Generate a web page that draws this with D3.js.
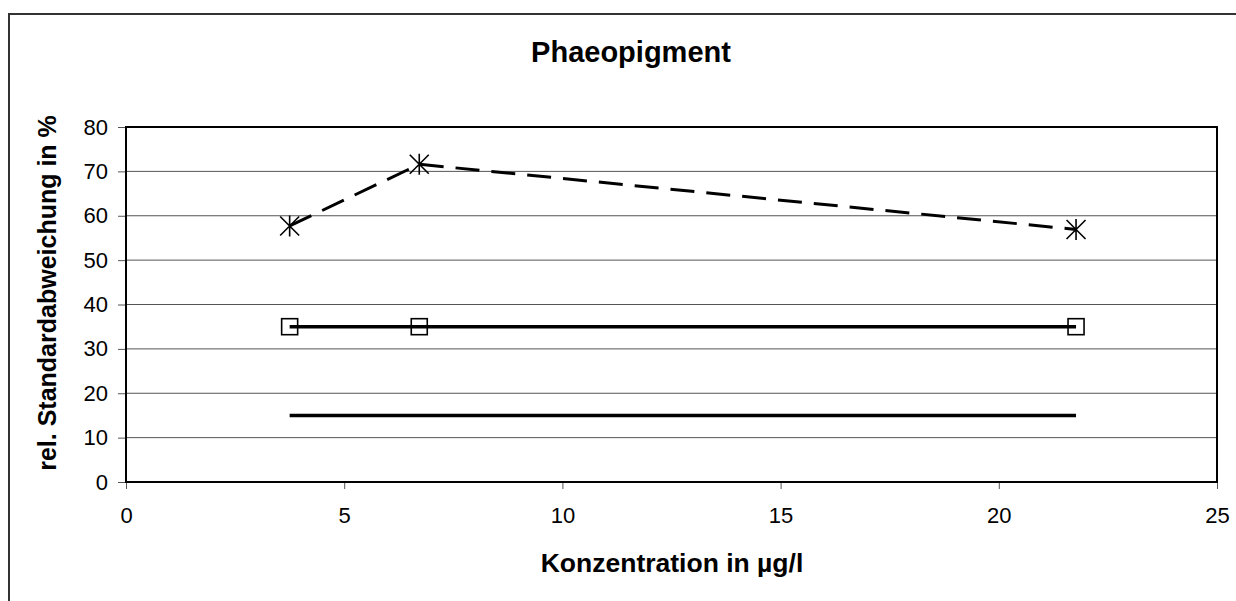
<!DOCTYPE html>
<html><head><meta charset="utf-8">
<script src="https://cdn.jsdelivr.net/npm/d3@7"></script>
<style>body{margin:0;background:#fff}svg{display:block;font-family:"Liberation Sans",Arial,sans-serif}</style>
</head><body>
<svg id="c" width="1236" height="601"></svg>
<script>
const title = "Phaeopigment";
const xTitle = "Konzentration in µg/l";
const yTitle = "rel. Standardabweichung in %";
const xTicks = [0, 5, 10, 15, 20, 25];
const yTicks = [0, 10, 20, 30, 40, 50, 60, 70, 80];
const concX = [3.75, 6.72, 21.77];
const rsdMeasured = [57.7, 71.6, 56.9];
const rsdSquare = [35, 35, 35];
const rsdLine = [15, 15, 15];

const svg = d3.select("#c");
const m = {l: 126, t: 127, r: 1217, b: 482};
const x = d3.scaleLinear().domain([0, 25]).range([m.l, m.r]);
const y = d3.scaleLinear().domain([0, 80]).range([m.b, m.t]);

// outer frame
svg.append("path").attr("d", `M9,601 L9,14 L1236,14`).attr("fill", "none").attr("stroke", "#333").attr("stroke-width", 2);

// gridlines
svg.append("g").selectAll("line").data(yTicks.filter(v => v > 0 && v < 80)).join("line")
  .attr("x1", m.l).attr("x2", m.r).attr("y1", d => y(d)).attr("y2", d => y(d))
  .attr("stroke", "#555").attr("stroke-width", 1);

// axes
const yAxis = svg.append("g").attr("transform", `translate(${m.l},0)`)
  .call(d3.axisLeft(y).tickValues(yTicks).tickSize(8).tickPadding(10));
const xAxis = svg.append("g").attr("transform", `translate(0,${m.b})`)
  .call(d3.axisBottom(x).tickValues(xTicks).tickSize(7).tickPadding(18));
[yAxis, xAxis].forEach(g => {
  g.attr("font-size", 22).attr("font-family", "Liberation Sans, Arial, sans-serif");
  g.select(".domain").remove();
  g.selectAll("line").attr("stroke", "#555");
  g.selectAll("text").attr("fill", "#000");
});

// plot border
svg.append("rect").attr("x", m.l).attr("y", m.t).attr("width", m.r - m.l).attr("height", m.b - m.t)
  .attr("fill", "none").attr("stroke", "#000").attr("stroke-width", 2);

const line = d3.line().x((d, i) => x(concX[i])).y(d => y(d));

// 15 line
svg.append("path").attr("d", line(rsdLine)).attr("fill", "none").attr("stroke", "#000").attr("stroke-width", 3.5);
// 35 line
svg.append("path").attr("d", line(rsdSquare)).attr("fill", "none").attr("stroke", "#000").attr("stroke-width", 3.5);
svg.append("g").selectAll("rect").data(rsdSquare).join("rect")
  .attr("x", (d, i) => x(concX[i]) - 8).attr("y", d => y(d) - 8).attr("width", 16).attr("height", 16)
  .attr("fill", "none").attr("stroke", "#000").attr("stroke-width", 1.6);

// measured dashed
svg.append("path").attr("d", line(rsdMeasured)).attr("fill", "none").attr("stroke", "#000")
  .attr("stroke-width", 3).attr("stroke-dasharray", "24,12");
const star = svg.append("g").selectAll("g").data(rsdMeasured).join("g")
  .attr("transform", (d, i) => `translate(${x(concX[i])},${y(d)})`);
const s = 9.5;
star.append("path").attr("d", `M${-s},${-s}L${s},${s}M${-s},${s}L${s},${-s}M0,${-s - 1}L0,${s + 1}`)
  .attr("stroke", "#000").attr("stroke-width", 1.6).attr("fill", "none");

// titles
svg.append("text").attr("x", 631).attr("y", 62).attr("text-anchor", "middle")
  .attr("font-size", 29).attr("font-weight", "bold").text(title);
svg.append("text").attr("x", 672).attr("y", 572).attr("text-anchor", "middle")
  .attr("font-size", 26.5).attr("font-weight", "bold").text(xTitle);
svg.append("text").attr("transform", "translate(56,293) rotate(-90)").attr("text-anchor", "middle")
  .attr("font-size", 25).attr("font-weight", "bold").text(yTitle);
</script>
</body></html>
